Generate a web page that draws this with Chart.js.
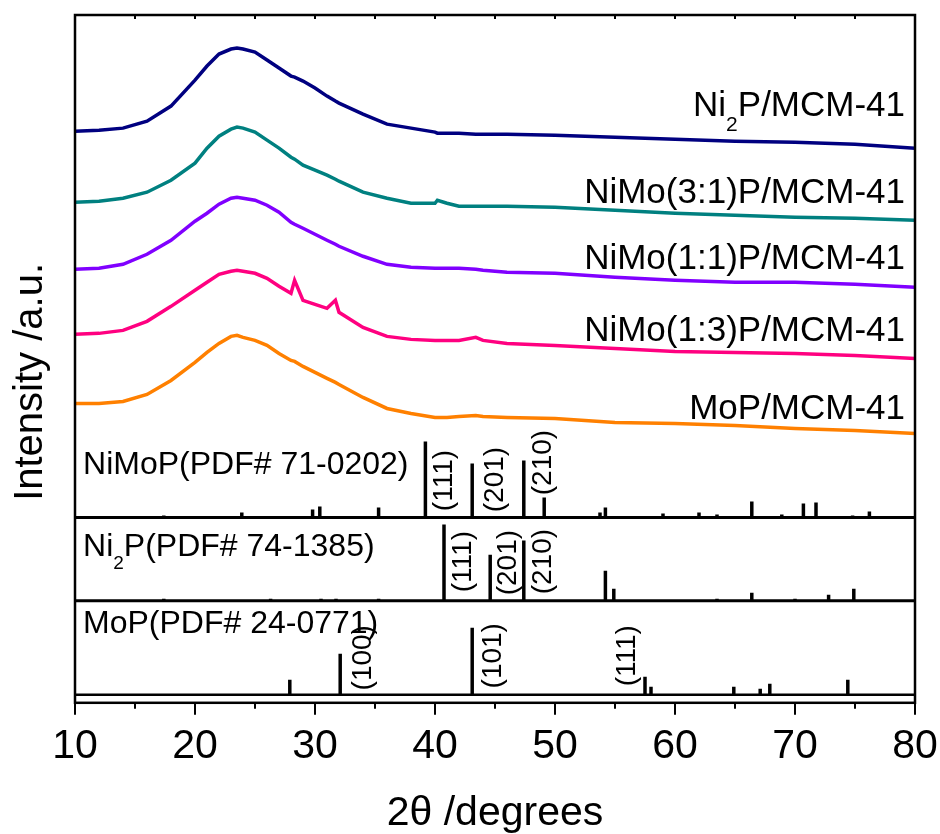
<!DOCTYPE html>
<html>
<head>
<meta charset="utf-8">
<script src="https://cdn.jsdelivr.net/npm/chart.js@4/dist/chart.umd.min.js"></script>
<style>
  html, body { margin: 0; padding: 0; background: #fff; }
  #wrap { width: 940px; height: 834px; }
</style>
</head>
<body>
<div id="wrap"><canvas id="xrd" width="940" height="834"></canvas></div>
<script>
// 2theta grid (degrees) shared by the five measured patterns
const twoTheta = [10, 12, 14, 16, 18, 20, 21, 22, 23, 23.5, 24, 25, 26, 27, 28, 28.3, 29, 30, 31, 31.7,
  32, 34, 36, 38, 40, 40.2, 41, 42, 43.4, 44, 46, 50, 55, 60, 65, 70, 75, 80];

// stacked intensities (a.u., offset already included)
const ni2pMcm = [571, 572, 574, 581, 596, 622, 636, 648, 653, 654, 653, 650, 642, 634, 626, 625, 621, 614, 606, 601,
  599, 588, 578, 574, 570, 569, 569, 569, 568, 568, 568, 567, 565, 563, 561, 560, 558, 554];
const nimo31Mcm = [500, 501, 504, 510, 522, 539, 554, 566, 573, 575, 574, 570, 562, 554, 545, 543, 537, 532, 527, 523,
  521, 510, 504, 499, 499, 502, 499, 496, 496, 496, 496, 495, 492, 489, 487, 485, 484, 482];
const nimo11Mcm = [433, 434, 438, 448, 462, 481, 489, 498, 504, 505, 504, 502, 497, 490, 480, 478, 474, 468, 462, 458,
  456, 446, 438, 435, 434, 434, 434, 434, 433, 432, 430, 429, 425, 422, 420, 420, 418, 415];
const nimo13Mcm = [368, 369, 372, 381, 396, 412, 420, 428, 431, 432, 431, 429, 424, 416, 409, 422, 402, 398, 394, 402,
  390, 375, 366, 363, 362, 362, 362, 362, 365, 362, 359, 357, 354, 351, 350, 349, 347, 344];
const mopMcm = [299, 299, 301, 308, 322, 340, 350, 359, 366, 367, 365, 362, 357, 349, 342, 341, 336, 330, 324, 320,
  318, 305, 294, 289, 285, 285, 285, 286, 287, 286, 285, 284, 280, 279, 277, 274, 272, 269];

// reference stick patterns: peak positions and stick heights, plus the baseline of each panel
const nimopBase = 185;
const nimopPeaks = [17.4, 23.9, 29.8, 30.4, 35.3, 39.2, 43.1, 47.4, 49.1, 53.75, 54.2, 59.0, 62.0, 63.5, 66.4, 68.9, 70.7, 71.75, 74.8, 76.2];
const nimopHeights = [2, 5, 8, 11, 10, 76, 54, 57, 20, 5, 10, 4, 5, 3, 16, 3, 14, 15, 2, 6];
const ni2pBase = 102;
const ni2pPeaks = [17.4, 26.3, 30.5, 31.75, 35.3, 40.75, 44.6, 47.4, 54.2, 54.9, 63.5, 66.4, 70.0, 72.8, 74.9];
const ni2pHeights = [2, 2, 2, 2, 2, 76, 46, 60, 30, 12, 2, 8, 2, 6, 12];
const mopBase = 8;
const mopPeaks = [27.9, 32.1, 43.1, 57.5, 58.0, 64.9, 67.1, 67.9, 74.4];
const mopHeights = [15, 41, 67, 18, 8, 8, 6, 11, 15];

const sampleNames = [['Ni', '2', 'P/MCM-41'], ['NiMo(3:1)P/MCM-41'], ['NiMo(1:1)P/MCM-41'], ['NiMo(1:3)P/MCM-41'], ['MoP/MCM-41']];
const sampleLabelY = [586, 499, 433, 361, 283];
const refNames = [['NiMoP(PDF# 71-0202)'], ['Ni', '2', 'P(PDF# 74-1385)'], ['MoP(PDF# 24-0771)']];
const refLabelY = [229, 147, 70];
const hklText = ['(111)', '(201)', '(210)', '(111)', '(201)', '(210)', '(100)', '(101)', '(111)'];
const hklX = [40.75, 45.0, 49.0, 42.33, 46.1, 49.0, 34.0, 44.85, 56.0];
const hklY = [222, 223, 240, 141, 140, 141, 45, 47, 47];

const colors = ['rgb(0,0,128)', 'rgb(0,128,128)', 'rgb(128,0,255)', 'rgb(255,0,128)', 'rgb(255,128,0)'];
const FONT = "'Liberation Sans', Arial, sans-serif";

function curve(values, color) {
  return {
    data: twoTheta.map((x, i) => ({ x: x, y: values[i] })),
    borderColor: color, borderWidth: 3.5, pointRadius: 0, tension: 0
  };
}
function sticks(peaks, heights, base) {
  const pts = [];
  peaks.forEach((x, i) => { pts.push({ x: x, y: base }, { x: x, y: base + heights[i] }, { x: x, y: null }); });
  return { data: pts, borderColor: '#000', borderWidth: 3.5, pointRadius: 0, borderCapStyle: 'butt', spanGaps: false };
}
function baseline(base, w) {
  return { data: [{ x: 10, y: base }, { x: 80, y: base }], borderColor: '#000', borderWidth: w, pointRadius: 0 };
}

// text with optional subscript parts (odd indices are subscripts)
function drawRich(ctx, parts, x, y, size, align) {
  const sub = Math.round(size * 0.6);
  let total = 0;
  parts.forEach((p, i) => {
    ctx.font = (i % 2 ? sub : size) + 'px ' + FONT;
    total += ctx.measureText(p).width;
  });
  let cx = align === 'right' ? x - total : x;
  ctx.textAlign = 'left';
  ctx.textBaseline = 'alphabetic';
  parts.forEach((p, i) => {
    ctx.font = (i % 2 ? sub : size) + 'px ' + FONT;
    ctx.fillText(p, cx, i % 2 ? y + size * 0.42 : y);
    cx += ctx.measureText(p).width;
  });
}

const decorations = {
  id: 'decorations',
  afterDatasetsDraw(chart) {
    const { ctx, chartArea: a, scales: { x, y } } = chart;
    ctx.save();
    ctx.fillStyle = '#000';
    ctx.strokeStyle = '#000';
    // frame
    ctx.lineWidth = 2.5;
    ctx.strokeRect(a.left, a.top, a.right - a.left, a.bottom - a.top);
    // bottom ticks (major and minor, outward) and small top ticks
    ctx.lineWidth = 2;
    for (let v = 10; v <= 80; v += 5) {
      const px = x.getPixelForValue(v);
      const len = v % 10 === 0 ? 12 : 6;
      ctx.beginPath(); ctx.moveTo(px, a.bottom); ctx.lineTo(px, a.bottom + len); ctx.stroke();
      if (v > 10 && v < 80) {
        ctx.beginPath(); ctx.moveTo(px, a.top); ctx.lineTo(px, a.top + 4); ctx.stroke();
      }
    }
    // sample names
    sampleNames.forEach((parts, i) => drawRich(ctx, parts, x.getPixelForValue(79.17), y.getPixelForValue(sampleLabelY[i]), 35, 'right'));
    // reference names
    refNames.forEach((parts, i) => drawRich(ctx, parts, x.getPixelForValue(10.67), y.getPixelForValue(refLabelY[i]), 32, 'left'));
    // hkl labels, rotated
    ctx.font = '28px ' + FONT;
    ctx.textAlign = 'center';
    ctx.textBaseline = 'middle';
    hklText.forEach((t, i) => {
      ctx.save();
      ctx.translate(x.getPixelForValue(hklX[i]), y.getPixelForValue(hklY[i]));
      ctx.rotate(-Math.PI / 2);
      ctx.fillText(t, 0, 0);
      ctx.restore();
    });
    // y-axis title
    ctx.save();
    ctx.font = '40px ' + FONT;
    ctx.textAlign = 'center';
    ctx.textBaseline = 'alphabetic';
    ctx.translate(42, (a.top + a.bottom) / 2 + 23);
    ctx.rotate(-Math.PI / 2);
    ctx.fillText('Intensity /a.u.', 0, 0);
    ctx.restore();
    ctx.restore();
  }
};

new Chart(document.getElementById('xrd'), {
  type: 'line',
  data: {
    datasets: [
      curve(ni2pMcm, colors[0]),
      curve(nimo31Mcm, colors[1]),
      curve(nimo11Mcm, colors[2]),
      curve(nimo13Mcm, colors[3]),
      curve(mopMcm, colors[4]),
      baseline(nimopBase, 3),
      baseline(ni2pBase, 3),
      baseline(mopBase, 2.5),
      sticks(nimopPeaks, nimopHeights, nimopBase),
      sticks(ni2pPeaks, ni2pHeights, ni2pBase),
      sticks(mopPeaks, mopHeights, mopBase)
    ]
  },
  options: {
    responsive: false,
    animation: false,
    layout: { padding: { left: 75, right: 25, top: 15, bottom: 0 } },
    plugins: { legend: { display: false }, tooltip: { enabled: false } },
    scales: {
      x: {
        type: 'linear', min: 10, max: 80, offset: false,
        grid: { display: true, drawOnChartArea: false, drawTicks: true, tickLength: 19, color: 'rgba(0,0,0,0)' },
        border: { display: false },
        ticks: { stepSize: 10, padding: 0, color: '#000', font: { family: FONT, size: 41 } },
        title: { display: true, text: '2\u03b8 /degrees', color: '#000', font: { family: FONT, size: 41, lineHeight: 1 }, padding: { top: 22, bottom: 0 } }
      },
      y: { type: 'linear', min: 0, max: 687, display: false }
    }
  },
  plugins: [decorations]
});
</script>
</body>
</html>
